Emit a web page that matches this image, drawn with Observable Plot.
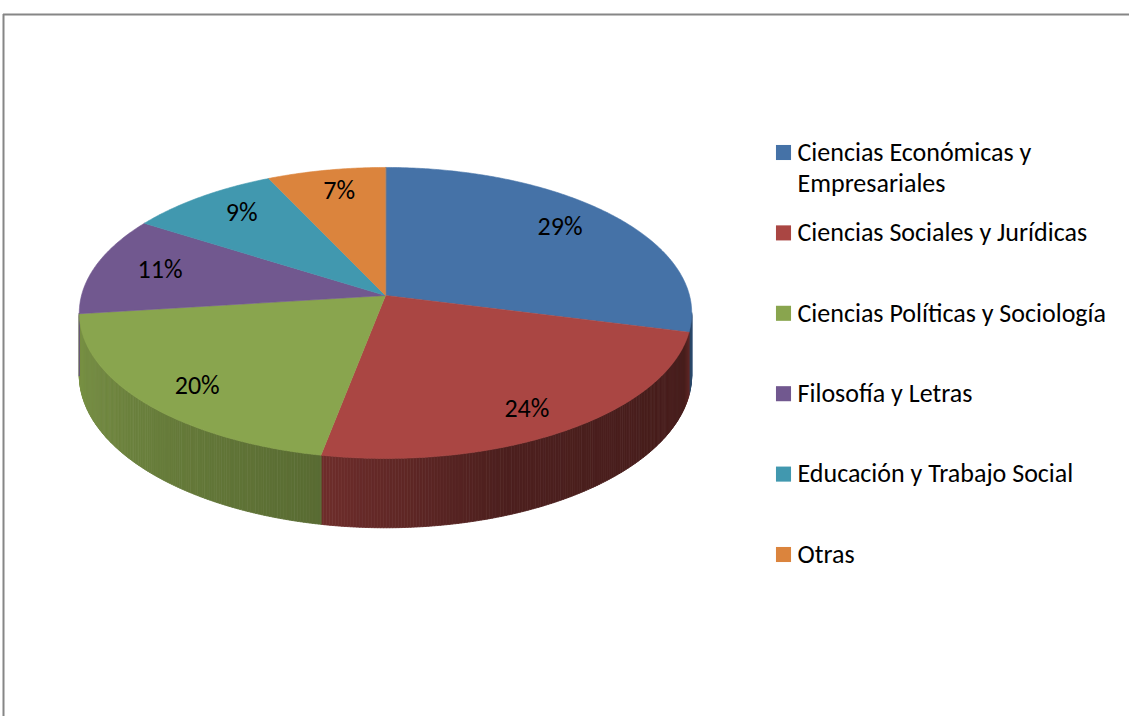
<!DOCTYPE html>
<html>
<head>
<meta charset="utf-8">
<script src="https://cdn.jsdelivr.net/npm/d3@7"></script>
<script src="https://cdn.jsdelivr.net/npm/@observablehq/plot@0.6"></script>
<style>
  html, body { margin: 0; padding: 0; background: #fff; overflow: hidden; color: #000; }
</style>
</head>
<body>
<div id="chart"></div>
<script>
// ---- data ----
const categories = [
  "Ciencias Económicas y Empresariales",
  "Ciencias Sociales y Jurídicas",
  "Ciencias Políticas y Sociología",
  "Filosofía y Letras",
  "Educación y Trabajo Social",
  "Otras"
];
const legendLabels = [
  ["Ciencias Económicas y", "Empresariales"],
  ["Ciencias Sociales y Jurídicas"],
  ["Ciencias Políticas y Sociología"],
  ["Filosofía y Letras"],
  ["Educación y Trabajo Social"],
  ["Otras"]
];
const values = [29, 24, 20, 11, 9, 7];
const percentLabels = ["29%", "24%", "20%", "11%", "9%", "7%"];
const colors = ["#4572A7", "#AA4643", "#89A54E", "#71588F", "#4198AF", "#DB843D"];

// ---- geometry (perspective 3D pie) ----
const W = 1129, H = 716;
const cx = 385, cy = 295, A = 304, B = 143.4, K = 0.12, D = 61;
function proj(theta, r) {
  const t = theta * Math.PI / 180;
  const u = r * Math.sin(t), v = -r * Math.cos(t);
  const s = 1 / (1 - K * v);
  return {x: cx + A * u * s, y: cy + B * v * s, s};
}
const total = d3.sum(values);
let acc = 0;
const slices = values.map((val, i) => {
  const a0 = acc / total * 360; acc += val;
  const a1 = acc / total * 360;
  return {i, a0, a1, mid: (a0 + a1) / 2, color: colors[i], label: percentLabels[i], name: categories[i]};
});

// top faces
const topPts = [];
slices.forEach(sl => {
  const c = proj(0, 0);
  topPts.push({id: sl.i, x: c.x, y: c.y, color: sl.color});
  const n = Math.max(2, Math.ceil((sl.a1 - sl.a0) / 0.5));
  for (let j = 0; j <= n; j++) {
    const p = proj(sl.a0 + (sl.a1 - sl.a0) * j / n, 1);
    topPts.push({id: sl.i, x: p.x, y: p.y, color: sl.color});
  }
});

// visible side wall
const thR = Math.acos(-K) * 180 / Math.PI, thL = 360 - thR;
const shade = d3.scaleLinear()
  .domain([96, 104, 110, 160, 191, 230, 263])
  .range([0.75, 0.6, 0.41, 0.45, 0.65, 0.78, 0.89]).clamp(true);
const sidePts = [];
let sid = 0;
slices.forEach(sl => {
  const s0 = Math.max(sl.a0, thR), s1 = Math.min(sl.a1, thL);
  if (s1 <= s0) return;
  const n = Math.max(1, Math.ceil((s1 - s0) / 0.5));
  const base = d3.rgb(sl.color);
  for (let j = 0; j < n; j++) {
    const t0 = s0 + (s1 - s0) * j / n, t1 = s0 + (s1 - s0) * (j + 1) / n;
    const p0 = proj(t0, 1), p1 = proj(t1, 1);
    const f = shade((t0 + t1) / 2);
    const col = d3.rgb(base.r * f, base.g * f, base.b * f).formatHex();
    sid++;
    sidePts.push(
      {id: sid, x: p0.x, y: p0.y, color: col},
      {id: sid, x: p1.x, y: p1.y, color: col},
      {id: sid, x: p1.x, y: p1.y + D * p1.s, color: col},
      {id: sid, x: p0.x, y: p0.y + D * p0.s, color: col}
    );
  }
});

// percent labels
const labelData = slices.map(sl => {
  const t = sl.mid * Math.PI / 180;
  const u = Math.sin(t), v = -Math.cos(t), s = 1 / (1 - K * v);
  return {x: cx + 0.78 * A * u * s, y: cy + 0.84 * B * v * s, text: sl.label};
});

// legend
const legendRows = [];
legendLabels.forEach((lines, i) => lines.forEach((txt, j) =>
  legendRows.push({x: 797, y: 152 + 80.4 * i + 31 * j, text: txt})));
const legendKeys = categories.map((c, i) => ({x: 783, y: 152 + 80.4 * i, color: colors[i]}));

const plot = Plot.plot({
  width: W, height: H, margin: 0,
  x: {domain: [0, W], range: [0, W], axis: null},
  y: {domain: [0, H], range: [0, H], axis: null},
  color: {type: "identity"},
  style: {fontFamily: "Carlito, Lato, sans-serif", background: "#fff", color: "#000"},
  marks: [
    Plot.line(sidePts, {x: "x", y: "y", z: "id", fill: "color", stroke: "color", strokeWidth: 0.8, curve: "linear-closed"}),
    Plot.line(topPts, {x: "x", y: "y", z: "id", fill: "color", stroke: "color", strokeWidth: 0.6, curve: "linear-closed"}),
    Plot.text(labelData, {x: "x", y: "y", text: "text", fontSize: 26, fill: "#000"}),
    Plot.dot(legendKeys, {x: "x", y: "y", fill: "color", symbol: "square", r: 8.5}),
    Plot.text(legendRows, {x: "x", y: "y", text: "text", textAnchor: "start", fontSize: 26, fill: "#000"}),
    Plot.ruleY([14], {x1: 3, x2: W, stroke: "#868686", strokeWidth: 2}),
    Plot.ruleX([3], {y1: 14, y2: H, stroke: "#868686", strokeWidth: 2})
  ]
});
document.getElementById("chart").append(plot);
</script>
</body>
</html>
